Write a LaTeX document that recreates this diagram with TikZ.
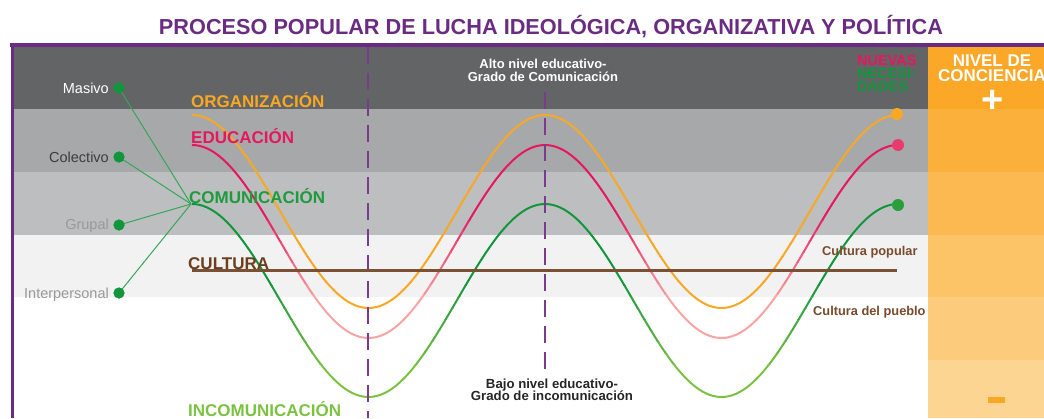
\documentclass[tikz,border=0pt]{standalone}
\usepackage{fontspec}
\setmainfont{Liberation Sans}
\definecolor{purp}{HTML}{6A2C82}
\definecolor{band1}{HTML}{636466}
\definecolor{band2}{HTML}{A7A8AA}
\definecolor{band3}{HTML}{BDBEC0}
\definecolor{band4}{HTML}{F2F2F2}
\definecolor{or1}{HTML}{FBA828}
\definecolor{or2}{HTML}{FCB03C}
\definecolor{or3}{HTML}{FCB952}
\definecolor{or4}{HTML}{FCC466}
\definecolor{or5}{HTML}{FCCC7C}
\definecolor{or6}{HTML}{FBD591}
\definecolor{orline}{HTML}{F9A825}
\definecolor{mag}{HTML}{E5185E}
\definecolor{lpink}{HTML}{F9A3A3}
\definecolor{dgreen}{HTML}{12963C}
\definecolor{lgreen}{HTML}{7CC242}
\definecolor{brown}{HTML}{6B3E1E}
\definecolor{lbrown}{HTML}{7A4A2C}
\definecolor{dash}{HTML}{7A3B8F}
\newcommand\tightlines{\lineskiplimit=-20pt\relax}
\tikzset{
  lbl/.style={inner sep=0pt, font=\bfseries\fontsize{17}{17}\selectfont},
  side/.style={inner sep=0pt, anchor=base east, font=\fontsize{14.5}{14.5}\selectfont},
  dotn/.style={circle, inner sep=0pt, minimum size=11pt, fill=dgreen},
  hubline/.style={draw=dgreen!85!white, line width=1pt},
  wave/.style={line width=2pt},
  vdash/.style={draw=dash, line width=1.3pt, dash pattern=on 17pt off 9pt},
  small/.style={inner sep=0pt, align=center}
}
\newcommand\gradwave[5]{%
  \foreach \i in {0,...,8}{%
    \pgfmathsetmacro\ylo{\i==0 ? 0 : #4+(#5-#4)*(\i-0.5)/8}%
    \pgfmathsetmacro\yhi{\i==8 ? 420 : #4+(#5-#4)*(\i+0.5)/8}%
    \pgfmathtruncatemacro\pct{100*\i/8}%
    \begin{scope}
      \clip (150,\ylo) rectangle (920,\yhi);
      \draw[wave, draw={#3!\pct!#2}] plot[domain=192:898,samples=200] (\x,{#1-96.5*cos((\x-192)/353*360)});
    \end{scope}
  }%
}
\begin{document}
\begin{tikzpicture}[x=1pt,y=-1pt]
\useasboundingbox (0,0) rectangle (1044,418);
% bands
\fill[band1] (14,46) rectangle (928,109);
\fill[band2] (14,109) rectangle (928,172);
\fill[band3] (14,172) rectangle (928,235);
\fill[band4] (14,235) rectangle (928,297);
% orange column
\fill[or1] (928,46) rectangle (1044,109);
\fill[or2] (928,109) rectangle (1044,172);
\fill[or3] (928,172) rectangle (1044,235);
\fill[or4] (928,235) rectangle (1044,297);
\fill[or5] (928,297) rectangle (1044,360);
\fill[or6] (928,360) rectangle (1044,418);
% purple frame
\fill[purp] (10,43) rectangle (1044,46.5);
\fill[purp] (10.5,43) rectangle (14,418);
% title
\node[inner sep=0pt, anchor=base, text=purp, font=\bfseries\fontsize{21.7}{22}\selectfont] (title) at (551,34) {PROCESO POPULAR DE LUCHA IDEOLÓGICA, ORGANIZATIVA Y POLÍTICA};
% header texts
\node[small, text=white, anchor=base, font=\bfseries\fontsize{13}{13.5}\selectfont] (alto) at (543,81.7) {Alto nivel educativo-\\Grado de Comunicación};
\node[small, text=black!85, anchor=base, font={\bfseries\fontsize{13.2}{12}\selectfont\tightlines}] (bajo) at (552,400) {Bajo nivel educativo-\\Grado de incomunicación};
\node[inner sep=0pt, anchor=base west, align=left, font={\bfseries\fontsize{14.5}{13}\selectfont\tightlines}] (nuevas) at (857,91.5) {\textcolor{mag}{NUEVAS}\\\textcolor{dgreen}{NECESI-}\\\textcolor{dgreen}{DADES}};
\node[inner sep=0pt, anchor=base, align=center, text=white, font=\bfseries\fontsize{17}{15.7}\selectfont] (nivel) at (992,81.7) {NIVEL DE\\CONCIENCIA};
\node[inner sep=0pt, text=white, font=\bfseries\fontsize{38}{38}\selectfont] (plus) at (993,101) {+};
\node[inner sep=0pt, minimum width=17pt, minimum height=6pt, fill=orline] (minus) at (996,400) {};
% curves
\gradwave{211.5}{orline}{orline}{200}{300}
\gradwave{241.5}{mag}{lpink}{215}{300}
\gradwave{300.5}{dgreen}{lgreen}{280}{370}
% dashed verticals
\draw[vdash] (368,47) -- (368,418);
\draw[vdash] (545,92) -- (545,372);
% cultura line
\draw[draw=brown!90!white, line width=3pt] (192,270.5) -- (897,270.5);
% side labels and dots
\coordinate (hub) at (191,204);
\node[dotn] (d1) at (119,88) {};
\node[dotn] (d2) at (119,157) {};
\node[dotn] (d3) at (119,225) {};
\node[dotn] (d4) at (119,293) {};
\foreach \n in {d1,d2,d3,d4} \draw[hubline] (\n.center) -- (hub);
\foreach \n in {d1,d2,d3,d4} \fill[dgreen] (\n) circle (5.5pt);
\node[side, text=white] (masivo) at (109,93) {Masivo};
\node[side, text=black!76] (colectivo) at (109,162) {Colectivo};
\node[side, text=black!40] (grupal) at (109,229) {Grupal};
\node[side, text=black!40] (interp) at (109,298) {Interpersonal};
% main labels
\node[lbl, anchor=base west, text=orline] (org) at (191,107) {ORGANIZACIÓN};
\node[lbl, anchor=base west, text=mag] (edu) at (191,143) {EDUCACIÓN};
\node[lbl, anchor=base west, text=dgreen!90!lgreen] (com) at (189,203.5) {COMUNICACIÓN};
\node[lbl, anchor=base west, text=brown] (cul) at (188,269) {CULTURA};
\node[lbl, anchor=base west, text=lgreen] (incom) at (188,416) {INCOMUNICACIÓN};
\node[inner sep=0pt, anchor=base west, text=lbrown, font=\bfseries\fontsize{12.8}{13}\selectfont] (cpop) at (822,255) {Cultura popular};
\node[inner sep=0pt, anchor=base west, text=lbrown, font=\bfseries\fontsize{12.8}{13}\selectfont] (cpue) at (813,315) {Cultura del pueblo};
% end dots
\node[dotn, fill=orline, minimum size=12pt] (eo) at (897,114) {};
\node[dotn, fill=mag!75!lpink, minimum size=12pt] (ep) at (898,145) {};
\node[dotn, fill=dgreen!80!lgreen, minimum size=12pt] (eg) at (898,205) {};
\end{tikzpicture}
\end{document}
